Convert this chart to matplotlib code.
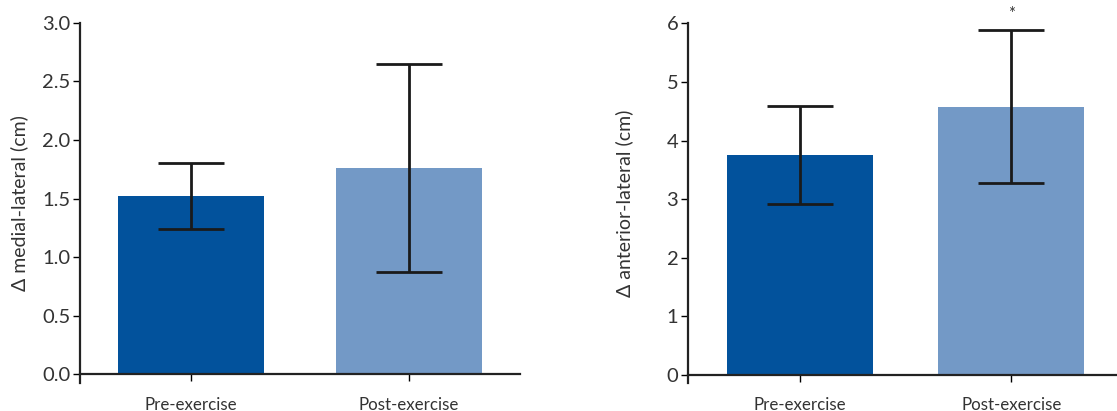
import numpy as np
import matplotlib.pyplot as plt

# ==========================================
# Data
# ==========================================

groups = ["Pre-exercise", "Post-exercise"]

ml_mean = [1.52, 1.76]
ml_sd = [0.28, 0.89]

al_mean = [3.75, 4.58]
al_sd = [0.84, 1.31]

bar_colors = ["#02529c", "#7399c6"]

plt.rcParams["font.family"] = ["Lato", "DejaVu Sans"]

fig = plt.figure(figsize=(11.17, 4.11), dpi=100)

ax1 = fig.add_axes([0.0716, 0.0693, 0.394, 0.8755])
ax2 = fig.add_axes([0.616, 0.0676, 0.384, 0.8757])


def draw_panel(ax, means, sds, ylim, yticks, fmt, ylabel, width, xlim):
    x = np.arange(len(groups))
    ax.bar(x, means, width=width, color=bar_colors, zorder=2)
    ax.errorbar(x, means, yerr=sds, fmt="none", ecolor="#1a1a1a",
                elinewidth=2, capsize=24, capthick=2, zorder=3)
    ax.set_xlim(*xlim)
    ax.set_ylim(*ylim)
    ax.set_yticks(yticks)
    ax.set_yticklabels([fmt.format(t) for t in yticks])
    ax.set_xticks(x)
    ax.set_xticklabels(groups)
    ax.set_ylabel(ylabel, fontsize=14, color="#333333")
    for s in ["top", "right"]:
        ax.spines[s].set_visible(False)
    ax.spines["bottom"].set_position(("data", 0))
    for s in ["left", "bottom"]:
        ax.spines[s].set_linewidth(1.6)
        ax.spines[s].set_color("#222222")
    ax.tick_params(axis="y", length=5, width=1, labelsize=14.5,
                   labelcolor="#333333", pad=2)
    ax.tick_params(axis="x", length=5, width=1, pad=11, labelsize=12.2,
                   labelcolor="#333333")


draw_panel(ax1, ml_mean, ml_sd, (-0.07, 3.0),
           [0.0, 0.5, 1.0, 1.5, 2.0, 2.5, 3.0], "{:.1f}",
           "\u0394 medial-lateral (cm)", 0.67, (-0.51, 1.51))
ax1.yaxis.set_label_coords(-0.117, 0.5)

draw_panel(ax2, al_mean, al_sd, (-0.14, 6.0),
           [0, 1, 2, 3, 4, 5, 6], "{:d}",
           "\u0394 anterior-lateral (cm)", 0.69, (-0.53, 1.5))
ax2.yaxis.set_label_coords(-0.127, 0.5)

# significance marker
ax2.text(1, al_mean[1] + al_sd[1] + 0.13, "*", ha="center", va="bottom",
         fontsize=12, color="#333333")

fig.savefig("out.png", dpi=100)
